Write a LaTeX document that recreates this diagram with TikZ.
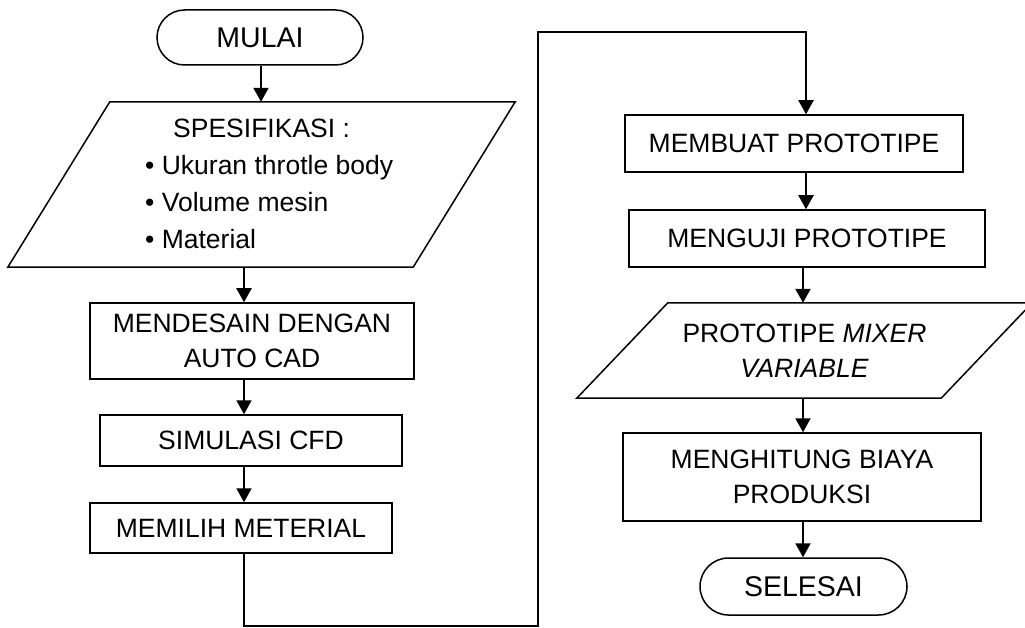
\documentclass[tikz,border=0pt]{standalone}
\usepackage{fontspec}
\setmainfont{Liberation Sans}
\usetikzlibrary{arrows.meta,shapes.misc}
\begin{document}
\begin{tikzpicture}[x=1pt,y=-1pt,
  every node/.style={font=\fontsize{26.5}{35}\selectfont, inner sep=0pt},
  term/.style={draw, line width=1.5pt, rounded rectangle, font=\fontsize{28.5}{34}\selectfont},
  proc/.style={draw, line width=1.5pt, rectangle, align=center},
  iobox/.style={rectangle, align=center},
  outline/.style={line width=1.5pt, line join=miter},
  arr/.style={line width=2pt, line join=miter, -{Triangle[length=14pt,width=15pt]}},
  bullets/.style={align=left, font=\fontsize{26.5}{37}\selectfont}]
\useasboundingbox (0,0) rectangle (1025,628);

% nodes
\node[term, minimum width=206pt, minimum height=55pt] (mulai) at (260,37.5) {MULAI};

\node[iobox, minimum width=507pt, minimum height=165pt] (spec) at (261.5,184.5) {};
\draw[outline] ([xshift=102pt]spec.north west) -- (spec.north east)
  -- ([xshift=-102pt]spec.south east) -- (spec.south west) -- cycle;
\node[bullets, anchor=north west] (spectxt) at (145,119)
  {\hspace{28pt}SPESIFIKASI :\\• Ukuran throtle body\\• Volume mesin\\• Material};

\node[proc, minimum width=324pt, minimum height=76pt] (mend) at (252,341) {MENDESAIN DENGAN\\AUTO CAD};
\node[proc, minimum width=302pt, minimum height=51pt] (sim) at (251,440.5) {SIMULASI CFD};
\node[proc, minimum width=302pt, minimum height=50pt] (pilih) at (241,528) {MEMILIH METERIAL};

\node[proc, minimum width=338pt, minimum height=57pt] (membuat) at (794,143.5) {MEMBUAT PROTOTIPE};
\node[proc, minimum width=356pt, minimum height=57pt] (uji) at (807,238.5) {MENGUJI PROTOTIPE};

\node[iobox, minimum width=455pt, minimum height=95pt] (proto) at (804.5,350.5) {PROTOTIPE \textit{MIXER}\\\textit{VARIABLE}};
\draw[outline] ([xshift=91pt]proto.north west) -- (proto.north east)
  -- ([xshift=-91pt]proto.south east) -- (proto.south west) -- cycle;

\node[proc, minimum width=358pt, minimum height=88pt] (hitung) at (802,477) {MENGHITUNG BIAYA\\PRODUKSI};
\node[term, minimum width=207pt, minimum height=57pt] (selesai) at (803.5,586.5) {SELESAI};

% helper coordinates
\coordinate (xa) at (261,0);
\coordinate (xl) at (244,0);
\coordinate (xr1) at (806,0);
\coordinate (xr2) at (803,0);
\coordinate (c1) at (244,626);
\coordinate (c2) at (538,626);
\coordinate (c3) at (538,32);
\coordinate (c4) at (806,32);

% connectors
\draw[arr] (mulai.south -| xa) -- (spec.north -| xa);
\draw[arr] (spec.south -| xl) -- (mend.north -| xl);
\draw[arr] (mend.south -| xl) -- (sim.north -| xl);
\draw[arr] (sim.south -| xl) -- (pilih.north -| xl);
\draw[arr] (pilih.south -| xl) -- (c1) -- (c2) -- (c3) -- (c4) -- (membuat.north -| xr1);
\draw[arr] (membuat.south -| xr1) -- (uji.north -| xr1);
\draw[arr] (uji.south -| xr2) -- (proto.north -| xr2);
\draw[arr] (proto.south -| xr2) -- (hitung.north -| xr2);
\draw[arr] (hitung.south -| xr2) -- (selesai.north -| xr2);
\end{tikzpicture}
\end{document}
